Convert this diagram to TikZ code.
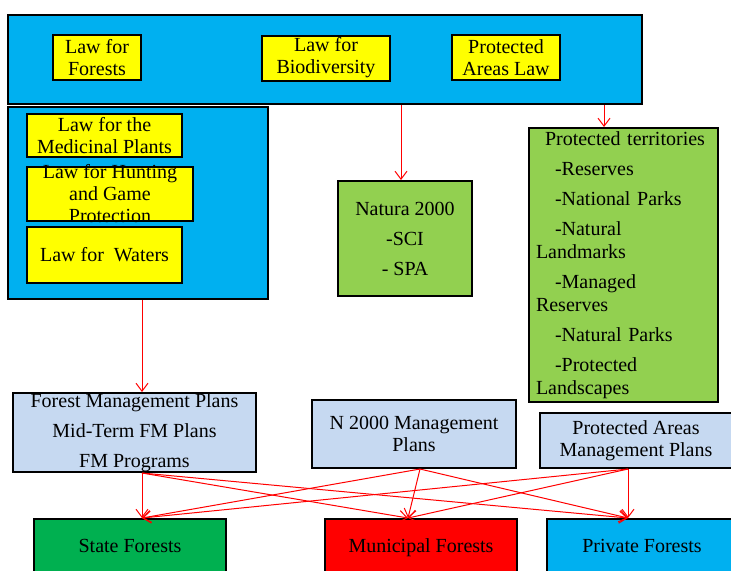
\documentclass[tikz,border=0pt]{standalone}
\usepackage{fontspec}
\setmainfont{Liberation Serif}
\definecolor{lawblue}{RGB}{0,176,240}
\definecolor{lawyellow}{RGB}{255,255,0}
\definecolor{areagreen}{RGB}{146,208,80}
\definecolor{planblue}{RGB}{198,217,241}
\definecolor{stategreen}{RGB}{0,176,80}
\definecolor{munired}{RGB}{255,0,0}
\usetikzlibrary{positioning,shapes,arrows.meta,calc}

\begin{document}
\begin{tikzpicture}[x=0.5pt,y=-0.5pt,
    font=\fontsize{10}{11}\selectfont,
    box/.style={draw,rectangle,line width=1pt,align=center,inner ysep=1pt},
    lawbox/.style={box,fill=lawyellow},
    planbox/.style={box,fill=planblue},
    forestbox/.style={box,minimum width=96pt,minimum height=28pt,text height=7pt,text depth=2pt},
    link/.style={-{Straight Barb[length=4pt,width=6pt]},red,line width=0.5pt}]
    \useasboundingbox (0,0) rectangle (731,570);
    \clip (0,0) rectangle (731,570);

    % laws
    \node[box,fill=lawblue,minimum width=317pt,minimum height=44.5pt] (laws) at (325,59.5) {};
    \node[lawbox,minimum width=44pt,minimum height=22.5pt] (forestlaw) at (97,57.5) {Law for\\Forests};
    \node[lawbox,minimum width=64pt,minimum height=22.5pt] (biolaw) at (326,58) {Law for\\Biodiversity};
    \node[lawbox,minimum width=54pt,minimum height=22.5pt] (palaw) at (506,57.5) {Protected\\Areas Law};

    \node[box,fill=lawblue,minimum width=130pt,minimum height=96pt] (forestlaws) at (138,203) {};
    \node[lawbox,minimum width=77.5pt,minimum height=21.5pt] (medic) at (104.5,135.5) {Law for the\\Medicinal Plants};
    \node[lawbox,minimum width=83pt,minimum height=27pt,
          label={[align=center]center:{Law for Hunting\\and Game\\Protection}}] (hunt) at (110,194) {};
    \node[lawbox,minimum width=77.5pt,minimum height=28pt] (waters) at (104.5,255) {Law for~~Waters};

    % areas
    \node[box,fill=areagreen,minimum width=67pt,minimum height=57.5pt] (natura) at (405,238.5) {Natura 2000\\[4pt]-SCI\\[4pt]- SPA};
    \node[box,fill=areagreen,align=left,text width=87.5pt,inner xsep=3.5pt,minimum height=137pt] (terr) at (623.5,265) {%
        \hspace*{4.5pt}Protected territories\\[4pt]
        \hspace*{9.5pt}-Reserves\\[4pt]
        \hspace*{9.5pt}-National Parks\\[4pt]
        \hspace*{9.5pt}-Natural\\[0.5pt]
        Landmarks\\[4pt]
        \hspace*{9.5pt}-Managed\\[0.5pt]
        Reserves\\[4pt]
        \hspace*{9.5pt}-Natural Parks\\[4pt]
        \hspace*{9.5pt}-Protected\\[0.5pt]
        Landscapes};

    % plans
    \node[planbox,minimum width=121.5pt,minimum height=39.5pt,
          label={[align=center]center:{Forest Management Plans\\[4pt]Mid-Term FM Plans\\[4pt]FM Programs}}] (fmp) at (134.5,432.5) {};
    \node[planbox,minimum width=102pt,minimum height=34pt] (n2k) at (414,434) {N 2000 Management\\Plans};
    \node[planbox,minimum width=96pt,minimum height=27.5pt] (pap) at (636,440.5) {Protected Areas\\Management Plans};

    % forests
    \node[forestbox,fill=stategreen] (state) at (130,547) {State Forests};
    \node[forestbox,fill=munired] (muni) at (421,547) {Municipal Forests};
    \node[forestbox,fill=lawblue,minimum width=95pt] (priv) at (642,547) {Private Forests};

    \coordinate (terrin) at ([xshift=-9.75pt]terr.north);
    \coordinate (fmin) at ([xshift=3.75pt]fmp.north);
    \coordinate (naturain) at ([xshift=-2pt]natura.north);
    \draw[link] (naturain |- laws.south) -- (naturain);
    \draw[link] (terrin |- laws.south) -- (terrin);
    \draw[link] (fmin |- forestlaws.south) -- (fmin);

    \coordinate (fm-out) at ([xshift=3.75pt]fmp.south);
    \coordinate (n2k-out) at ([xshift=3pt]n2k.south);
    \coordinate (pa-out) at ([xshift=-4pt]pap.south);
    \coordinate (state-in) at ([xshift=6pt]state.north);
    \coordinate (muni-in) at ([xshift=-6.5pt]muni.north);
    \coordinate (priv-in) at ([xshift=-7pt]priv.north);
    \foreach \src in {fm-out,n2k-out,pa-out}
        \foreach \dst in {state-in,muni-in,priv-in}
            \draw[link] (\src) -- (\dst);
\end{tikzpicture}
\end{document}
